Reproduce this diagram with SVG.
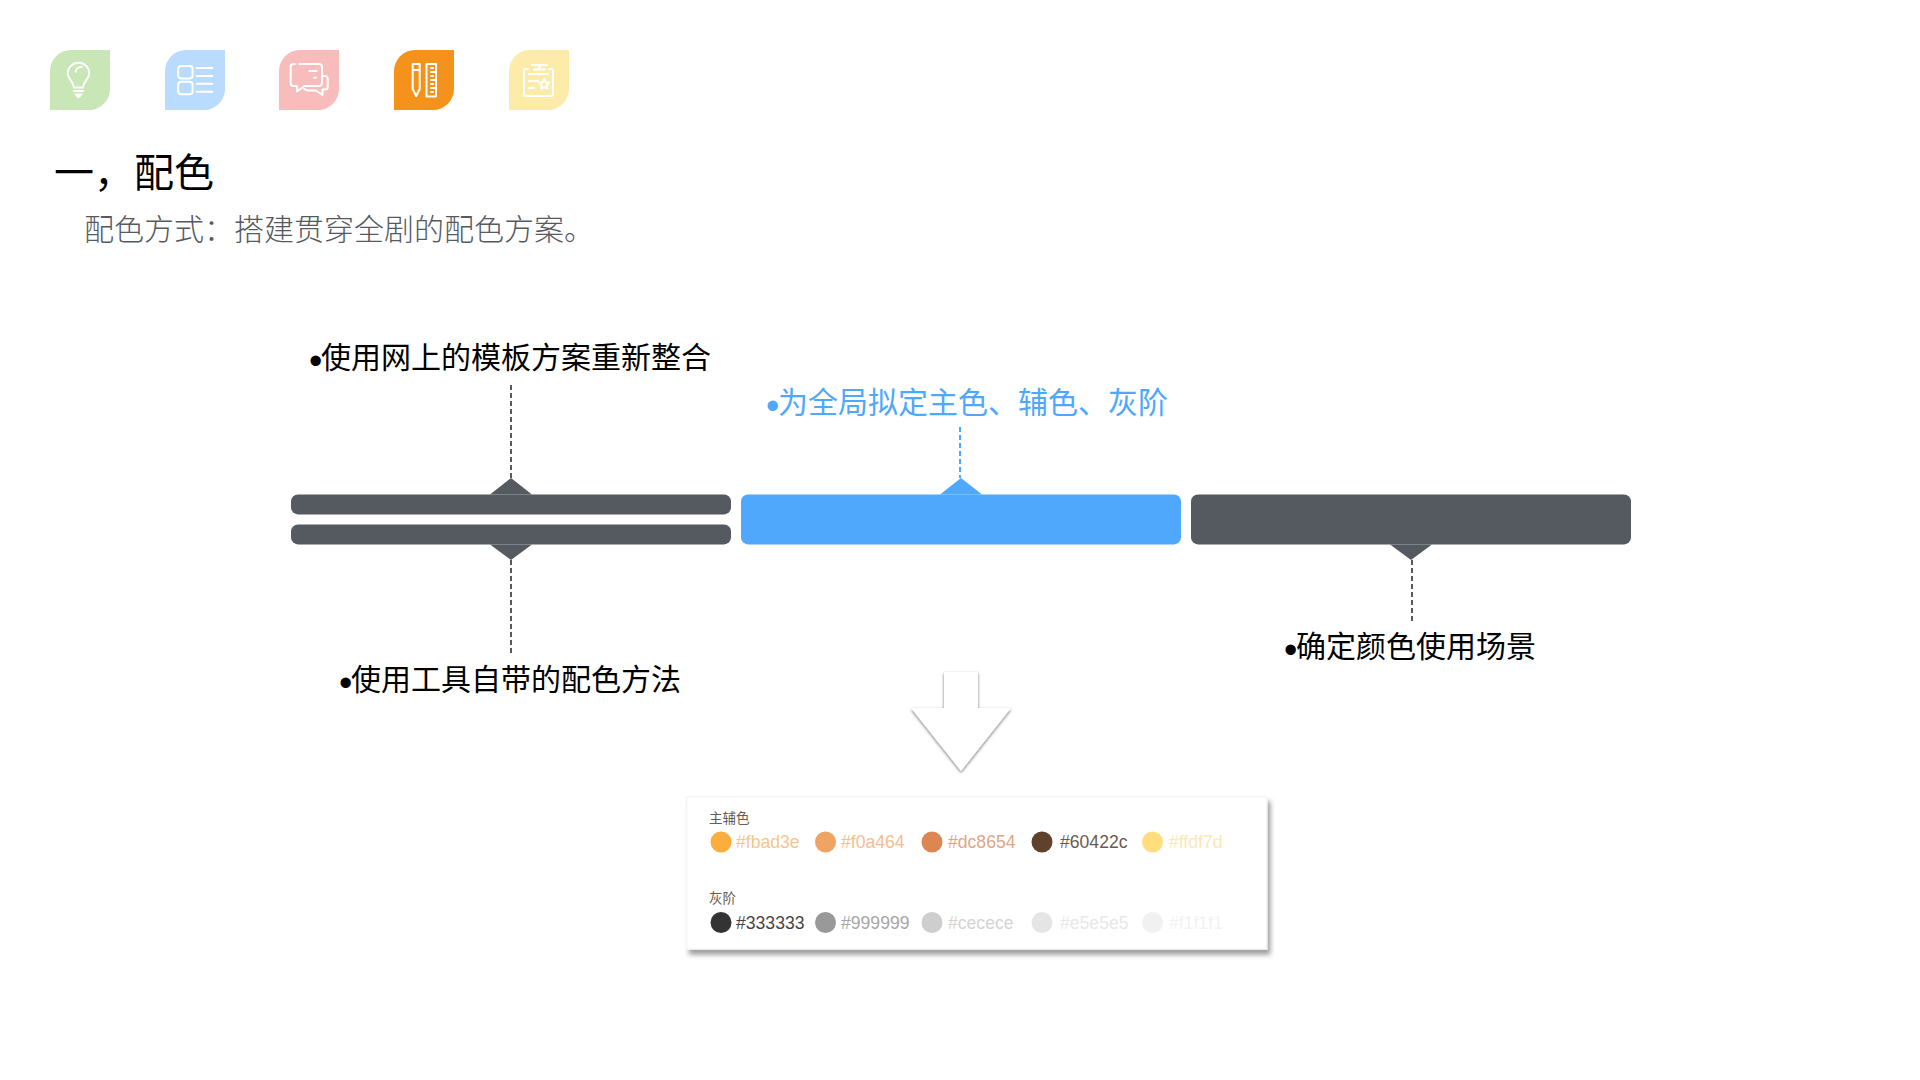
<svg xmlns="http://www.w3.org/2000/svg" width="1920" height="1080" viewBox="0 0 1920 1080">
<style>
text{font-family:"Noto Sans CJK SC","Noto Sans",sans-serif}
.ic{fill:none;stroke:#fff;stroke-width:2;stroke-linecap:round;stroke-linejoin:round}
.lab{font-size:30px;fill:#000;font-weight:400}
.blt{font-family:"Liberation Sans",sans-serif;font-size:38px}
.bar{fill:#555a61}
.blue{fill:#4fa8fb}
.dash{fill:none;stroke:#555a61;stroke-width:2;stroke-dasharray:5 3}
.hex{font-family:"Liberation Sans",sans-serif;font-size:17.6px}
.cap{font-size:13.5px;fill:#6b5a4e}
</style>
<defs>
<path id="leaf" d="M0 60V21A21 21 0 0 1 21 0H60V39A21 21 0 0 1 39 60Z"/>
<filter id="sa" x="-20%" y="-20%" width="140%" height="140%"><feDropShadow dx="0" dy="1.5" stdDeviation="1.5" flood-color="#000" flood-opacity=".55"/></filter>
<filter id="sc" x="-5%" y="-10%" width="110%" height="120%"><feDropShadow dx="3" dy="5" stdDeviation="2.5" flood-color="#000" flood-opacity=".38"/></filter>
</defs>
<rect width="1920" height="1080" fill="#fff"/>

<g id="icon-bulb">
<use href="#leaf" x="50" y="50" fill="#c9e6b6"/>
<path class="ic" d="M73.3 85.5C73 81 67.7 79 67.7 73.5A10.8 10.8 0 0 1 89.3 73.5C89.3 79 84 81 83.5 85.5M75.7 71.7C76 69 78.5 67 81.8 66.7M73.8 87.5H83M73.8 91H83M75.5 94.5H81.5M76.5 95Q78.5 99 80.5 95"/>
</g>
<g id="icon-list">
<use href="#leaf" x="165" y="50" fill="#b9dbfe"/>
<rect class="ic" x="178.2" y="66" width="14.4" height="12.4" rx="3"/>
<rect class="ic" x="178.2" y="81.8" width="14.4" height="12.4" rx="3"/>
<path class="ic" d="M196.7 68H212.3M196.7 76H212.3M196.7 83.8H212.3M196.7 91.8H212.3"/>
</g>
<g id="icon-chat">
<use href="#leaf" x="279" y="50" fill="#f8bcbc"/>
<path class="ic" d="M295.5 64H293.5Q290.7 64 290.7 67V83Q290.7 86 293.5 86H297V91.5L304.5 86H319Q322 86 322 83V67Q322 64 319 64H299.5M323 76H325Q327.7 76 327.7 79V87Q327.7 89.5 325 89.5H322.5V95L316 90.5H308Q306 90.5 304 88.8M309.3 71H316.7M314 77.7H316"/>
</g>
<g id="icon-tools">
<use href="#leaf" x="394" y="50" fill="#f4921b"/>
<path class="ic" d="M412.7 64H419.7V89L416.2 96L412.7 89ZM412.7 70H419.7"/>
<rect class="ic" x="426.5" y="64" width="9.5" height="32.5"/>
<path class="ic" d="M431 68H433M431 72H435.5M431 76H433M431 80H435.5M431 84H433M431 88H435.5M431 92H433"/>
</g>
<g id="icon-badge">
<use href="#leaf" x="509" y="50" fill="#fdebaa"/>
<path class="ic" d="M528 69H526Q524 69 524 71V94Q524 96 526 96H551Q553 96 553 94V71Q553 69 551 69H549M532 65H547M534 69.5H545M539.5 65V69.5M529 74H548M529 81H538M529 88H534M544.3 79L545.8 82.3L549.3 82.8L546.8 85.2L547.4 88.8L544.3 87.1L541.2 88.8L541.8 85.2L539.3 82.8L542.8 82.3Z"/>
</g>

<g id="title"><text x="54" y="187" font-size="40" fill="#000" font-weight="400">一，配色</text></g>
<g id="subtitle"><text x="84" y="240" font-size="30" fill="#555a61" font-weight="300">配色方式：搭建贯穿全剧的配色方案。</text></g>

<g id="connectors">
<path class="dash" d="M511 385V478M511 560V654M1412 560V622"/>
<path class="dash" style="stroke:#4fa8fb" d="M960 427V478"/>
</g>

<g id="bar-a">
<path class="bar" d="M490 494.4L511 478L532 494.4ZM490 544.4L511 560L532 544.4Z"/>
<rect class="bar" x="291" y="494.4" width="440" height="20" rx="7"/>
<rect class="bar" x="291" y="524.4" width="440" height="20" rx="7"/>
</g>
<g id="bar-b">
<path class="blue" d="M940 494.4L961 478L982 494.4Z"/>
<rect class="blue" x="741" y="494.4" width="440" height="50" rx="7"/>
</g>
<g id="bar-c">
<path class="bar" d="M1390 544.4L1411 560L1432 544.4Z"/>
<rect class="bar" x="1191" y="494.4" width="440" height="50" rx="7"/>
</g>

<g id="label-a"><text class="blt" x="309" y="374" fill="#000">•</text><text class="lab" x="321" y="368">使用网上的模板方案重新整合</text></g>
<g id="label-b"><text class="blt" x="766" y="419.3" fill="#4fa8fb">•</text><text class="lab" x="778" y="413" style="fill:#4fa8fb">为全局拟定主色、辅色、灰阶</text></g>
<g id="label-c"><text class="blt" x="1284" y="663" fill="#000">•</text><text class="lab" x="1296" y="657">确定颜色使用场景</text></g>
<g id="label-d"><text class="blt" x="339" y="696" fill="#000">•</text><text class="lab" x="351" y="690">使用工具自带的配色方法</text></g>

<g id="arrow"><path d="M944 672H978V708H1011L961 771L911 708H944Z" fill="#fff" filter="url(#sa)"/></g>

<g id="palette">
<rect x="686.7" y="797" width="580" height="152" fill="#fff" stroke="#f3f5f5" stroke-width="1.5" filter="url(#sc)"/>
<text class="cap" x="709" y="823">主辅色</text>
<text class="cap" x="709" y="903">灰阶</text>
<circle cx="721" cy="842" r="10.5" fill="#fbad3e"/><text class="hex" x="736" y="848" fill="#f6c689">#fbad3e</text>
<circle cx="825.5" cy="842" r="10.5" fill="#f0a464"/><text class="hex" x="841" y="848" fill="#f3bd92">#f0a464</text>
<circle cx="932" cy="842" r="10.5" fill="#dc8654"/><text class="hex" x="948" y="848" fill="#e0a585">#dc8654</text>
<circle cx="1042" cy="842" r="10.5" fill="#60422c"/><text class="hex" x="1060" y="848" fill="#6b5a4e">#60422c</text>
<circle cx="1152.5" cy="842" r="10.5" fill="#ffdf7d"/><text class="hex" x="1169" y="848" fill="#fbe8b4">#ffdf7d</text>
<circle cx="721" cy="922.5" r="10.5" fill="#333"/><text class="hex" x="736" y="928.5" fill="#444">#333333</text>
<circle cx="825.5" cy="922.5" r="10.5" fill="#999"/><text class="hex" x="841" y="928.5" fill="#a6a6a6">#999999</text>
<circle cx="932" cy="922.5" r="10.5" fill="#cecece"/><text class="hex" x="948" y="928.5" fill="#d4d4d4">#cecece</text>
<circle cx="1042" cy="922.5" r="10.5" fill="#e5e5e5"/><text class="hex" x="1060" y="928.5" fill="#e8e8e8">#e5e5e5</text>
<circle cx="1152.5" cy="922.5" r="10.5" fill="#f1f1f1"/><text class="hex" x="1169" y="928.5" fill="#f2f2f2">#f1f1f1</text>
</g>
</svg>
